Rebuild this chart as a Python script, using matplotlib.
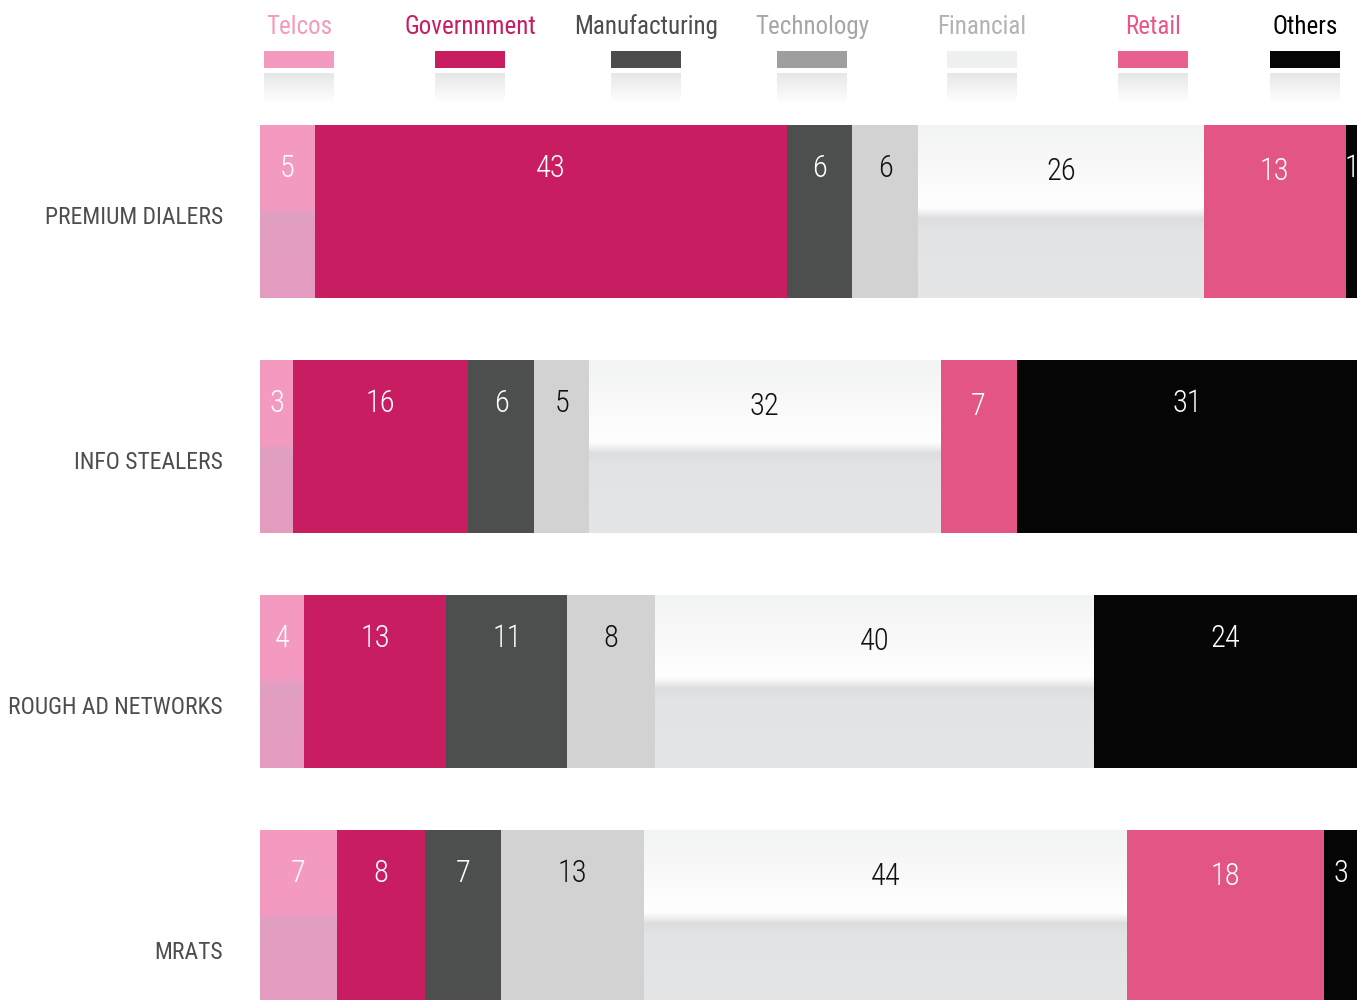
import os
import numpy as np
import matplotlib
matplotlib.use("Agg")
import matplotlib.pyplot as plt
from matplotlib import font_manager as fm
from matplotlib.colors import to_rgb
from matplotlib.patches import Rectangle

# ---------------- data ----------------
categories = ["PREMIUM DIALERS", "INFO STEALERS", "ROUGH AD NETWORKS", "MRATS"]
sectors = ["Telcos", "Governnment", "Manufacturing", "Technology", "Financial", "Retail", "Others"]
telcos        = [5, 3, 4, 7]
government    = [43, 16, 13, 8]
manufacturing = [6, 6, 11, 7]
technology    = [6, 5, 8, 13]
financial     = [26, 32, 40, 44]
retail        = [13, 7, 0, 18]
others        = [1, 31, 24, 3]
series = [telcos, government, manufacturing, technology, financial, retail, others]

# ---------------- style ----------------
bar_colors    = ["#f49ac1", "#c81e61", "#4d4e4e", "#d2d2d2", "#eff0f0", "#e35584", "#050505"]
swatch_colors = ["#f49ac1", "#c81e61", "#4d4d4d", "#9e9e9e", "#eff0f0", "#e86090", "#050505"]
legend_text_colors = ["#f49ac1", "#c81e61", "#4d4d4d", "#a6a6a6", "#b3b3b3", "#e8578b", "#000000"]
value_text_colors = ["white", "white", "white", "#111111", "#111111", "white", "white"]

# pick condensed font files if installed
files = sorted(set(fm.findSystemFonts()) | {f.fname for f in fm.fontManager.ttflist})


def find_font(prefs):
    for p in prefs:
        for f in files:
            if p.lower() in os.path.basename(f).lower():
                return f
    for f in files:
        b = os.path.basename(f).lower()
        if ("condensed" in b or "narrow" in b) and "bold" not in b and "italic" not in b:
            return f
    return None


light_file = find_font(["RobotoCondensed-Light", "Roboto_Condensed-Light",
                        "OpenSansCondensed-Light", "OpenSans_Condensed-Light",
                        "RobotoCondensed-Regular", "LiberationSansNarrow-Regular",
                        "DejaVuSansCondensed.ttf"])
reg_file = find_font(["RobotoCondensed-Regular", "Roboto_Condensed-Regular",
                      "OpenSans_Condensed-Regular", "OpenSansCondensed-Regular",
                      "RobotoCondensed-Light", "LiberationSansNarrow-Regular",
                      "DejaVuSansCondensed.ttf"])


def make_fp(path):
    if path:
        fm.fontManager.addfont(path)
        return fm.FontProperties(fname=path)
    return fm.FontProperties(family="DejaVu Sans")


fp_light = make_fp(light_file)
fp_reg = make_fp(reg_file)


def fprop(base, size):
    p = base.copy()
    p.set_size(size)
    return p


W, H = 1360, 1000
fig = plt.figure(figsize=(W / 100, H / 100), dpi=100)
fig.patch.set_facecolor("white")

bar_left_px, bar_w_px = 260, 1097
row_pitch = 235.0
first_center = 211.5
bar_h = 173.0 / row_pitch
ax = fig.add_axes([bar_left_px / W, 0, bar_w_px / W, 1])
ax.axis("off")
ylim = ((H - first_center) / row_pitch, -first_center / row_pitch)


def gradient(stops, n=300):
    pos = np.array([s[0] for s in stops])
    cols = np.array([to_rgb(s[1]) for s in stops])
    t = np.linspace(0, 1, n)
    img = np.stack([np.interp(t, pos, cols[:, k]) for k in range(3)], axis=-1)
    return img[:, None, :]


fin_grad = gradient([(0.0, "#f2f3f3"), (0.40, "#fdfdfd"), (0.47, "#ffffff"),
                     (0.50, "#f3f3f4"), (0.54, "#dcdddf"), (0.60, "#e2e3e5"), (1.0, "#e5e6e8")])
tel_grad = gradient([(0.0, "#f49ac1"), (0.47, "#f49ac1"), (0.53, "#dea0c0"),
                     (0.60, "#e29dc0"), (1.0, "#e49cc0")])

y = np.arange(len(categories))
left = np.zeros(len(categories))
for k, vals in enumerate(series):
    vals = np.array(vals, dtype=float)
    bars = ax.barh(y, vals, left=left, height=bar_h, color=bar_colors[k], linewidth=0)
    for i, (b, v) in enumerate(zip(bars, vals)):
        if v <= 0:
            continue
        x0 = left[i]
        if k in (0, 4):
            g = tel_grad if k == 0 else fin_grad
            ax.imshow(g, extent=(x0, x0 + v, y[i] + bar_h / 2, y[i] - bar_h / 2),
                      aspect="auto", origin="upper", interpolation="bilinear", zorder=2)
        dy = 0.27 if k in (4, 5) else 0.25
        ax.text(x0 + v / 2, y[i] - bar_h / 2 + dy * bar_h, f"{int(v)}",
                ha="center", va="center", color=value_text_colors[k],
                zorder=3, fontproperties=fprop(fp_light, 22))
    left += vals

ax.set_xlim(0, 100)
ax.set_ylim(*ylim)

# category labels (their spacing is slightly larger than the bar pitch)
label_first_px, label_pitch_px = 218.0, 245.0
for i, c in enumerate(categories):
    ly = (label_first_px + label_pitch_px * i - first_center) / row_pitch
    ax.text(-37 / bar_w_px * 100, ly, c, ha="right", va="center",
            color="#4d4d4d", fontproperties=fprop(fp_reg, 17))

# legend (top)
leg_x = [299, 470, 646, 812, 982, 1153, 1305]
sw_w = 70
refl = gradient([(0.0, "#e6e7e8"), (1.0, "#ffffff")])
for k, s in enumerate(sectors):
    cx = leg_x[k]
    fig.text(cx / W, 1 - 27 / H, s, ha="center", va="center",
             color=legend_text_colors[k], fontproperties=fprop(fp_reg, 18))
    fig.patches.append(Rectangle(((cx - sw_w / 2) / W, 1 - 68 / H), sw_w / W, 17 / H,
                                 transform=fig.transFigure, facecolor=swatch_colors[k],
                                 linewidth=0))
    rax = fig.add_axes([(cx - sw_w / 2) / W, 1 - 103 / H, sw_w / W, 30 / H])
    rax.imshow(refl, aspect="auto", extent=(0, 1, 0, 1), interpolation="bilinear")
    rax.axis("off")

fig.savefig("out.png", dpi=100, facecolor="white")
